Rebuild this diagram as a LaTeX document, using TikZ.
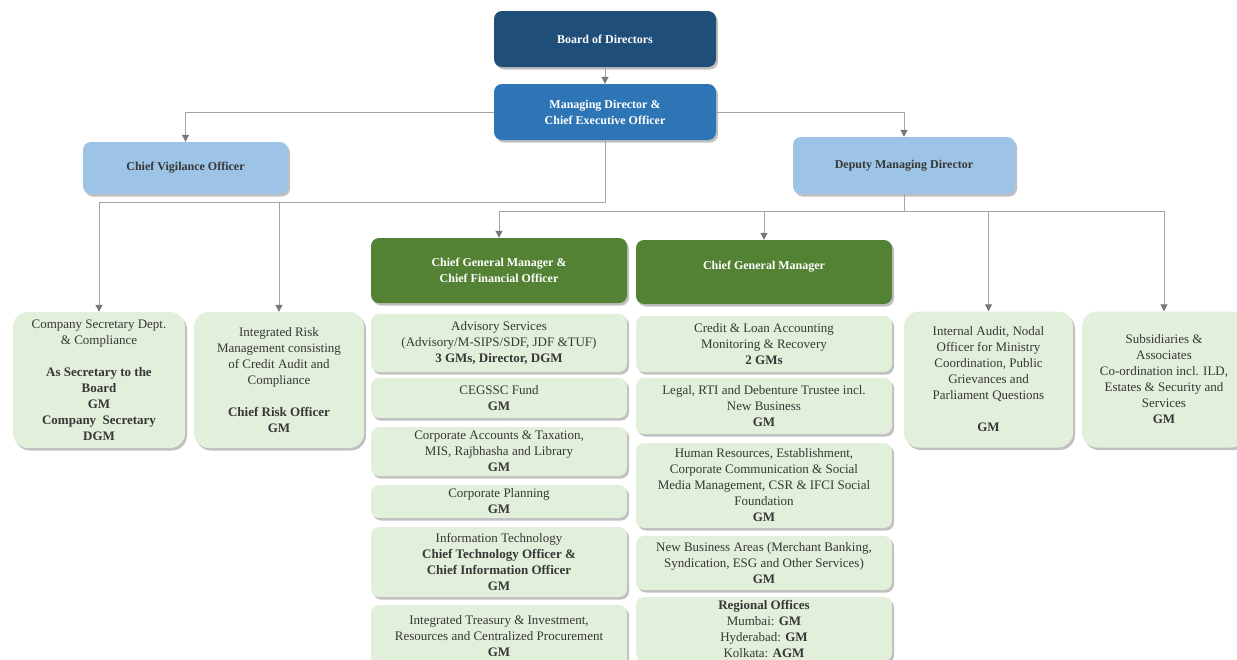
\documentclass[tikz,border=0pt]{standalone}
\usepackage{fontspec}
\setmainfont{Liberation Serif}
\usetikzlibrary{arrows.meta,shadows}
\definecolor{board}{RGB}{31,78,121}
\definecolor{md}{RGB}{46,117,182}
\definecolor{lightblue}{RGB}{157,195,230}
\definecolor{darkgreen}{RGB}{84,130,53}
\definecolor{lightgreen}{RGB}{226,239,218}
\definecolor{ink}{RGB}{55,55,55}
\definecolor{wire}{RGB}{165,165,165}
\definecolor{tip}{RGB}{120,120,120}
\tikzset{%
  box/.style={rectangle, rounded corners=8pt, align=center, inner ysep=1pt,
    drop shadow={shadow xshift=2pt, shadow yshift=-2.5pt, opacity=0.45, fill=black!55}},
  head/.style={box, fill=board, text=white, minimum width=222pt, minimum height=56pt,
    font=\fontsize{12}{16}\selectfont\bfseries},% top level boxes
  deputy/.style={box, fill=lightblue, text=ink, font=\fontsize{12}{16}\selectfont\bfseries},
  green/.style={box, fill=darkgreen, text=white, minimum width=256pt,
    font=\fontsize{12}{16}\selectfont\bfseries},
  dept/.style={box, fill=lightgreen, text=ink, minimum width=256pt,
    font=\fontsize{13}{16}\selectfont},% department boxes
  tall/.style={dept, rounded corners=15pt, minimum height=136pt},
  link/.style={draw=wire, line width=1pt, -{Triangle[width=7pt,length=7pt,color=tip]}}
}

\begin{document}
\begin{tikzpicture}[x=1pt, y=-1pt]
\useasboundingbox (0,0) rectangle (1237,659);

\node[head] (bod) at (605,39) {Board of Directors};
\node[head, fill=md] (md) at (605,112) {Managing Director \&\\Chief Executive Officer};
\node[deputy, minimum width=205pt, minimum height=52pt] (cvo) at (185.5,168) {Chief Vigilance Officer};
\node[deputy, minimum width=222pt, minimum height=57pt] (dmd) at (904,165.5) {Deputy Managing Director};

\node[green, minimum height=65pt] (cfo) at (499,270.5) {Chief General Manager \&\\Chief Financial Officer};
\node[green, minimum height=64pt] (cgm) at (764,272) {Chief General Manager\\[-2pt]};

\node[tall, minimum width=172pt] (csd) at (99,380) {Company Secretary Dept.\\\& Compliance\\[16pt]
  \textbf{As Secretary to the}\\\textbf{Board}\\\textbf{GM}\\\textbf{Company\ \ Secretary}\\\textbf{DGM}};
\node[tall, minimum width=170pt] (irm) at (279,380) {Integrated Risk\\Management consisting\\of Credit Audit and\\Compliance\\[16pt]
  \textbf{Chief Risk Officer}\\\textbf{GM}};
\node[tall, minimum width=169pt] (ia) at (988.5,379.5) {Internal Audit, Nodal\\Officer for Ministry\\Coordination, Public\\Grievances and\\Parliament Questions\\[16pt]
  \textbf{GM}};
\node[tall, minimum width=164pt] (sub) at (1164,379.5) {Subsidiaries \&\\Associates\\Co-ordination incl. ILD,\\Estates \& Security and\\Services\\\textbf{GM}};

% finance column
\node[dept, minimum height=58pt] (adv) at (499,343) {Advisory Services\\(Advisory/M-SIPS/SDF, JDF \&TUF)\\\textbf{3 GMs, Director, DGM}};
\node[dept, minimum height=40pt] (ceg) at (499,398) {CEGSSC Fund\\\textbf{GM}};
\node[dept, minimum height=49pt] (acc) at (499,451.5) {Corporate Accounts \& Taxation,\\MIS, Rajbhasha and Library\\\textbf{GM}};
\node[dept, minimum height=33pt] (plan) at (499,501.5) {Corporate Planning\\\textbf{GM}};
\node[dept, minimum height=70pt] (it) at (499,562) {Information Technology\\\textbf{Chief Technology Officer \&}\\\textbf{Chief Information Officer}\\\textbf{GM}};
\node[dept, minimum height=62pt] (tre) at (499,636) {Integrated Treasury \& Investment,\\Resources and Centralized Procurement\\\textbf{GM}};

% CGM column
\node[dept, minimum height=56pt] (cred) at (764,344) {Credit \& Loan Accounting\\Monitoring \& Recovery\\\textbf{2 GMs}};
\node[dept, minimum height=56pt] (legal) at (764,406) {Legal, RTI and Debenture Trustee incl.\\New Business\\\textbf{GM}};
\node[dept, minimum height=85pt] (hr) at (764,485.5) {Human Resources, Establishment,\\Corporate Communication \& Social\\Media Management, CSR \& IFCI Social\\Foundation\\\textbf{GM}};
\node[dept, minimum height=54pt] (nb) at (764,563) {New Business Areas (Merchant Banking,\\Syndication, ESG and Other Services)\\\textbf{GM}};
\node[dept, minimum height=64pt] (reg) at (764,629) {\textbf{Regional Offices}\\Mumbai: \textbf{GM}\\Hyderabad: \textbf{GM}\\Kolkata: \textbf{AGM}};

\coordinate (busL) at (0,202);
\coordinate (busR) at (0,211);

\draw[link] (bod) -- (md);
\draw[link] (md.west) -| (cvo.north);
\draw[link] (md.east) -| (dmd.north);
\draw[link] (md.south) |- (csd.north |- busL) -- (csd.north);
\draw[link] (md.south) |- (irm.north |- busL) -- (irm.north);
\draw[link] (dmd.south) |- (cfo.north |- busR) -- (cfo.north);
\draw[link] (dmd.south) |- (cgm.north |- busR) -- (cgm.north);
\draw[link] (dmd.south) |- (ia.north |- busR) -- (ia.north);
\draw[link] (dmd.south) |- (sub.north |- busR) -- (sub.north);

\end{tikzpicture}
\end{document}
